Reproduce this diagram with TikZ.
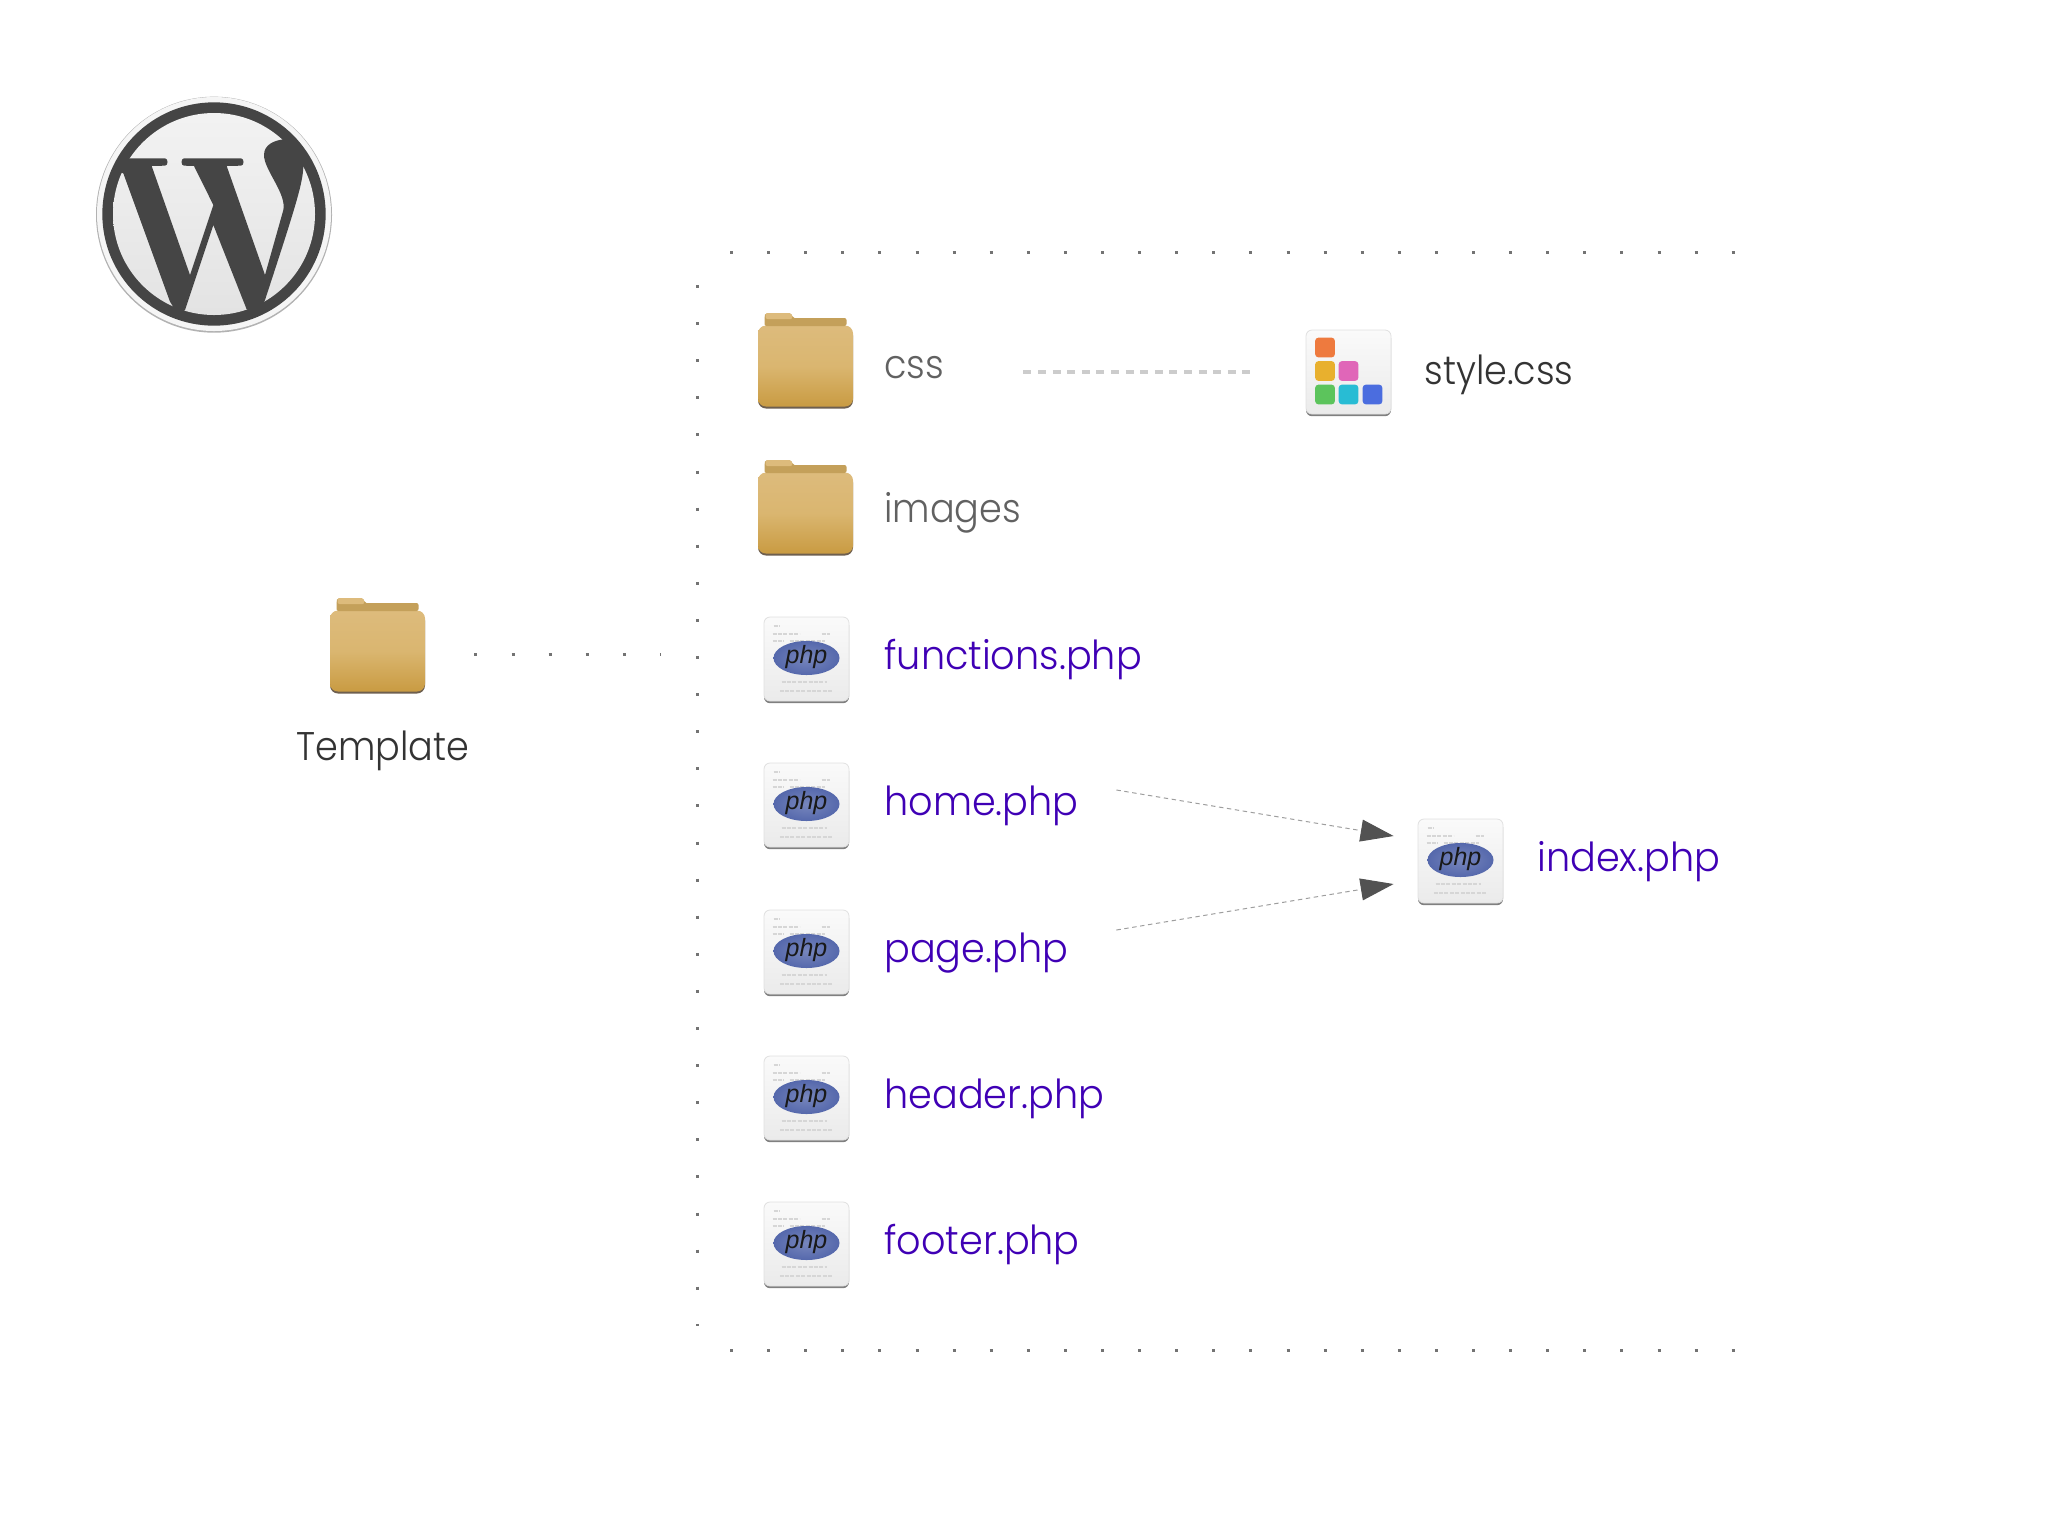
\documentclass[tikz,border=0pt]{standalone}
\usepackage{fontspec}
\setmainfont{Poppins}[UprightFont=* Light,FakeStretch=.955]
\newfontfamily\plainfont{Poppins}[UprightFont=* Light,FakeStretch=.915]
\newfontfamily\phpfont{Liberation Sans}
\usetikzlibrary{arrows.meta}
\definecolor{logodark}{HTML}{454545}
\definecolor{phpblue}{HTML}{3F00B5}
\definecolor{phpoval}{HTML}{5568AC}
\definecolor{folderA}{HTML}{DDBB7C}
\definecolor{folderB}{HTML}{C99B42}
\definecolor{folderC}{HTML}{DAB670}
\definecolor{folderD}{HTML}{6E5F4F}
\definecolor{folderE}{HTML}{C4A05A}
\definecolor{cssorange}{HTML}{EE7A3E}
\definecolor{cssyellow}{HTML}{E8B02E}
\definecolor{csspink}{HTML}{E066B8}
\definecolor{cssgreen}{HTML}{5CC45C}
\definecolor{cssteal}{HTML}{28BCD4}
\definecolor{cssblue}{HTML}{4B6DDF}
\tikzset{
  filelabel/.style={anchor=base west,inner sep=0pt,font=\fontsize{20}{24}\selectfont},
  phplabel/.style={filelabel,text=phpblue},
  dirlabel/.style={filelabel,font=\plainfont\fontsize{20}{24}\selectfont,text=black!62},
  darklabel/.style={filelabel,font=\plainfont\fontsize{20}{24}\selectfont,text=black!80},
  dotline/.style={draw=black!55,line width=1.5pt,dash pattern=on 1.5pt off 17.05pt},
  dashline/.style={draw=black!20,line width=2pt,dash pattern=on 4pt off 3.3pt},
  flowline/.style={draw=black!38,line width=.5pt,dash pattern=on 2.2pt off 1.8pt,
    -{Triangle[length=16.5pt,width=11pt,color=black!68]}},
  iconbox/.style={inner sep=0pt,rounded corners=3pt,minimum width=42.5pt,minimum height=42pt,
    top color=black!2,bottom color=black!8,draw=black!12,line width=.4pt,
    preaction={fill=black!50,transform canvas={yshift=-1.1pt}}},
  folderbody/.style={inner sep=0pt,rounded corners=4pt,minimum width=47.5pt,minimum height=40.5pt,
    top color=folderA,bottom color=folderB,middle color=folderC,
    preaction={fill=folderD,transform canvas={yshift=-1pt}}},
  phpfile/.pic={
    \draw[black!16,line width=.6pt,dash pattern=on 2pt off .7pt]
      (-33,-33) -- (-27,-33) (-34,-25) -- (-7,-25) (15,-25) -- (23,-25)
      (-34,-18) -- (-23,-18) (-17,-18) -- (18,-18)
      (-25,23) -- (20,23) (-27,32) -- (25,32);
    \shade[inner color=phpoval!80,outer color=phpoval] (0,-1) ellipse [x radius=33,y radius=17];
    \node[inner sep=0pt,font=\phpfont\itshape\fontsize{12.5}{12.5}\selectfont,text=black!90] at (0,-2) (-text) {php};
  },
  foldertab/.pic={
    \fill[folderE,rounded corners=1pt] (-41,-40) -- (41,-40) -- (41,-48) -- (-13,-48) -- (-14,-53) -- (-40,-53) -- (-41,-50) -- cycle;
    \fill[folderA,rounded corners=1pt] (-40,-53) -- (-14,-53) -- (-13,-47) -- (-40,-47) -- cycle;
  },
  cssblock/.style={inner sep=0pt,rounded corners=1.5pt,minimum size=9.8pt,fill=#1}
}
\begin{document}
\begin{tikzpicture}[x=.5pt,y=-.5pt]
\useasboundingbox (0,0) rectangle (2048,1537);

\begin{scope}[shift={(70,70)},x=.16667pt,y=-.16667pt]
\fill[black!30] (432,434) circle (354);
\fill[black!4] (432,432) circle (351);
\fill[logodark] (432,432) circle (335);
\shade[top color=black!5,bottom color=black!11] (432,432) circle (303);
\fill[logodark] (178,265) -- (285,265) .. controls (295,265) and (295,287) .. (285,287) -- (245,288) -- (360,615) -- (430,405) -- (372,288) -- (342,287) .. controls (332,287) and (332,265) .. (342,265) -- (513,265) .. controls (523,265) and (523,287) .. (513,287) -- (470,288) -- (585,615) -- (640,420) .. controls (650,370) and (582,300) .. (582,255) .. controls (582,225) and (610,212) .. (640,208) -- (720,270) -- (700,290) .. controls (698,340) and (680,400) .. (585,690) -- (565,730) -- (530,718) -- (430,465) -- (345,720) -- (325,735) -- (300,695) -- (160,310) -- (130,300) -- cycle;
\end{scope}

\coordinate (framelefttop) at (697,285);
\coordinate (frameleftbottom) at (697,1326);
\coordinate (frametopstart) at (730,252);
\coordinate (frametopend) at (1736,252);
\coordinate (framebottomstart) at (730,1350);
\coordinate (framebottomend) at (1736,1350);
\coordinate (framegap) at (661,654);
\draw[dotline] (framelefttop) -- (frameleftbottom);
\draw[dotline] (frametopstart) -- (frametopend);
\draw[dotline] (framebottomstart) -- (framebottomend);

\node[folderbody] at (377.5,651) (templatefolder) {};
\pic at (templatefolder) {foldertab};
\node[darklabel] at (296,760) (templatelabel) {Template};
\draw[dotline] ([xshift=24.5pt,yshift=-1.5pt]templatefolder.east) -- (framegap);

\node[folderbody] at (805.5,366) (cssfolder) {};
\pic at (cssfolder) {foldertab};
\node[dirlabel] at (884,378) (csslabel) {css};
\node[folderbody] at (805.5,513) (imagesfolder) {};
\pic at (imagesfolder) {foldertab};
\node[dirlabel] at (884,522) (imageslabel) {images};

\node[iconbox] at (1348.5,372) (styleicon) {};
\node[cssblock=cssorange] at (1325,347.5) (blockorange) {};
\node[cssblock=cssyellow] at (1325,371) (blockyellow) {};
\node[cssblock=csspink] at (1348.5,371) (blockpink) {};
\node[cssblock=cssgreen] at (1325,394.5) (blockgreen) {};
\node[cssblock=cssteal] at (1348.5,394.5) (blockteal) {};
\node[cssblock=cssblue] at (1372.5,394.5) (blockblue) {};
\node[darklabel] at (1424,384) (stylelabel) {style.css};
\draw[dashline] ([xshift=85pt,yshift=-3pt]cssfolder.east) -- ([xshift=-27pt]styleicon.west);

\node[iconbox] at (806.5,659) (functionsicon) {};
\pic (functionsmark) at (functionsicon) {phpfile};
\node[phplabel] at (884,669) (functionslabel) {functions.php};
\node[iconbox] at (806.5,805) (homeicon) {};
\pic (homemark) at (homeicon) {phpfile};
\node[phplabel] at (884,815) (homelabel) {home.php};
\node[iconbox] at (806.5,952) (pageicon) {};
\pic (pagemark) at (pageicon) {phpfile};
\node[phplabel] at (884,962) (pagelabel) {page.php};
\node[iconbox] at (806.5,1098) (headericon) {};
\pic (headermark) at (headericon) {phpfile};
\node[phplabel] at (884,1108) (headerlabel) {header.php};
\node[iconbox] at (806.5,1244) (footericon) {};
\pic (footermark) at (footericon) {phpfile};
\node[phplabel] at (884,1254) (footerlabel) {footer.php};

\node[iconbox] at (1460.5,861) (indexicon) {};
\pic (indexmark) at (indexicon) {phpfile};
\node[phplabel] at (1537,871) (indexlabel) {index.php};

\draw[flowline] ([xshift=133.5pt,yshift=7.5pt]homeicon.east) -- ([xshift=-12pt,yshift=12.5pt]indexicon.west);
\draw[flowline] ([xshift=133.5pt,yshift=11pt]pageicon.east) -- ([xshift=-12pt,yshift=-11.5pt]indexicon.west);
\end{tikzpicture}
\end{document}
